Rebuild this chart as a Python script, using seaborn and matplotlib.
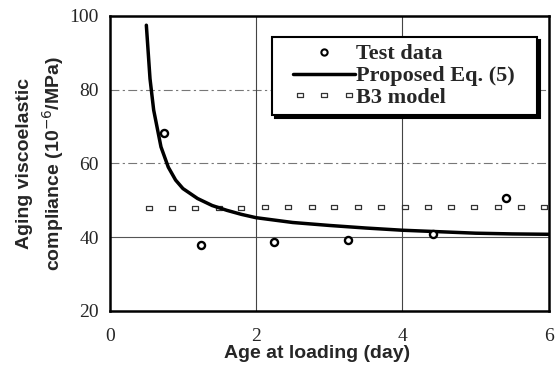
import matplotlib
matplotlib.use("Agg")
import matplotlib.pyplot as plt
import seaborn as sns
import pandas as pd
from matplotlib.lines import Line2D
from matplotlib.legend_handler import HandlerLine2D

# Test data
test_age = [0.74, 1.25, 2.25, 3.26, 4.42, 5.42]
test_val = [68.3, 38.0, 38.8, 39.2, 41.0, 50.6]

# Proposed Eq. (5) curve
eq_age = [0.5, 0.55, 0.6, 0.7, 0.8, 0.9, 1.0, 1.2, 1.4, 1.6, 1.8, 2.0, 2.5, 3.0, 3.5, 4.0, 4.5, 5.0, 5.5, 6.0]
eq_val = [97.5, 83.0, 74.5, 64.5, 59.0, 55.5, 53.2, 50.5, 48.6, 47.3, 46.2, 45.3, 44.0, 43.2, 42.5, 41.9, 41.5, 41.1, 40.9, 40.8]

# B3 model
b3_age = [0.53, 0.85, 1.17, 1.49, 1.80, 2.12, 2.44, 2.76, 3.07, 3.39, 3.71, 4.03, 4.35, 4.66, 4.98, 5.30, 5.62, 5.93]
b3_val = [48.0, 48.0, 48.0, 48.0, 48.0, 48.1, 48.1, 48.1, 48.1, 48.2, 48.2, 48.2, 48.2, 48.3, 48.3, 48.3, 48.3, 48.3]

x_ticks = [0, 2, 4, 6]
y_ticks = [20, 40, 60, 80, 100]

series_labels = ['Test data', 'Proposed Eq. (5)', 'B3 model']

sns.set_style("white")
plt.rcParams['font.family'] = ['Liberation Serif', 'DejaVu Serif']

fig = plt.figure(figsize=(5.6, 3.72), dpi=100)
ax = fig.add_axes([0.196, 0.164, 0.784, 0.793])

# grid lines
for y in [80, 60]:
    ax.axhline(y, color='#777777', lw=0.8, ls=(0, (8, 3, 2, 3)), zorder=0)
ax.axhline(40, color='#555555', lw=0.8, zorder=0)
for x in [2, 4]:
    ax.axvline(x, color='#444444', lw=0.8, zorder=0)

rect_marker = [(-1.5, -1.0), (1.5, -1.0), (1.5, 1.0), (-1.5, 1.0), (-1.5, -1.0)]

df_t = pd.DataFrame({'x': test_age, 'y': test_val})
df_e = pd.DataFrame({'x': eq_age, 'y': eq_val})
df_b = pd.DataFrame({'x': b3_age, 'y': b3_val})

sns.scatterplot(data=df_b, x='x', y='y', ax=ax, marker=rect_marker, s=16,
                facecolor='white', edgecolor='#333333', linewidth=0.9,
                legend=False, zorder=3)
sns.lineplot(data=df_e, x='x', y='y', ax=ax, color='black', lw=2.5,
             legend=False, zorder=4)
sns.scatterplot(data=df_t, x='x', y='y', ax=ax, marker='o', s=26,
                facecolor='white', edgecolor='black', linewidth=1.7,
                legend=False, zorder=5)

ax.set_xlim(0, 6)
ax.set_ylim(20, 100)
ax.set_xticks(x_ticks)
ax.set_yticks(y_ticks)
ax.tick_params(axis='both', labelsize=14, length=0)
ax.tick_params(axis='x', pad=12)
ax.tick_params(axis='y', pad=8)
for lab in ax.get_xticklabels() + ax.get_yticklabels():
    lab.set_family(['Liberation Serif'])

for s in ax.spines.values():
    s.set_linewidth(1.8)
    s.set_color('black')

ax.set_xlabel('Age at loading (day)', family=['Liberation Sans'],
              fontweight='bold', fontsize=14, labelpad=0)
ax.xaxis.set_label_coords(0.472, -0.115)
ax.set_ylabel('Aging viscoelastic\ncompliance (10$^{-6}$/MPa)',
              family=['Liberation Sans'], fontweight='bold', fontsize=14,
              labelpad=2, linespacing=1.4)

h_test = Line2D([], [], ls='none', marker='o', ms=4.5, mfc='white',
                mec='black', mew=1.5)
h_eq = Line2D([], [], color='black', lw=2.5)
h_b3 = Line2D([], [], ls='none', marker=rect_marker, ms=4.5, mfc='white',
              mec='#333333', mew=0.9)
xp = 0.65
leg = ax.legend([h_test, h_eq, h_b3], series_labels,
                loc='upper left', bbox_to_anchor=(0.486, 0.900, 0.473, 0.0),
                mode='expand',
                bbox_transform=fig.transFigure, frameon=True, fancybox=False,
                shadow={'color': 'black', 'alpha': 1.0},
                prop={'family': 'Liberation Serif', 'weight': 'bold', 'size': 16},
                handlelength=3.44, handletextpad=0.05, borderpad=0.3,
                labelspacing=0.06, borderaxespad=0,
                handler_map={h_test: HandlerLine2D(numpoints=1, xpad=xp),
                             h_eq: HandlerLine2D(xpad=xp),
                             h_b3: HandlerLine2D(numpoints=3, xpad=xp)})
leg.get_frame().set_edgecolor('black')
leg.get_frame().set_linewidth(1.5)

fig.savefig('out.png', dpi=100)
